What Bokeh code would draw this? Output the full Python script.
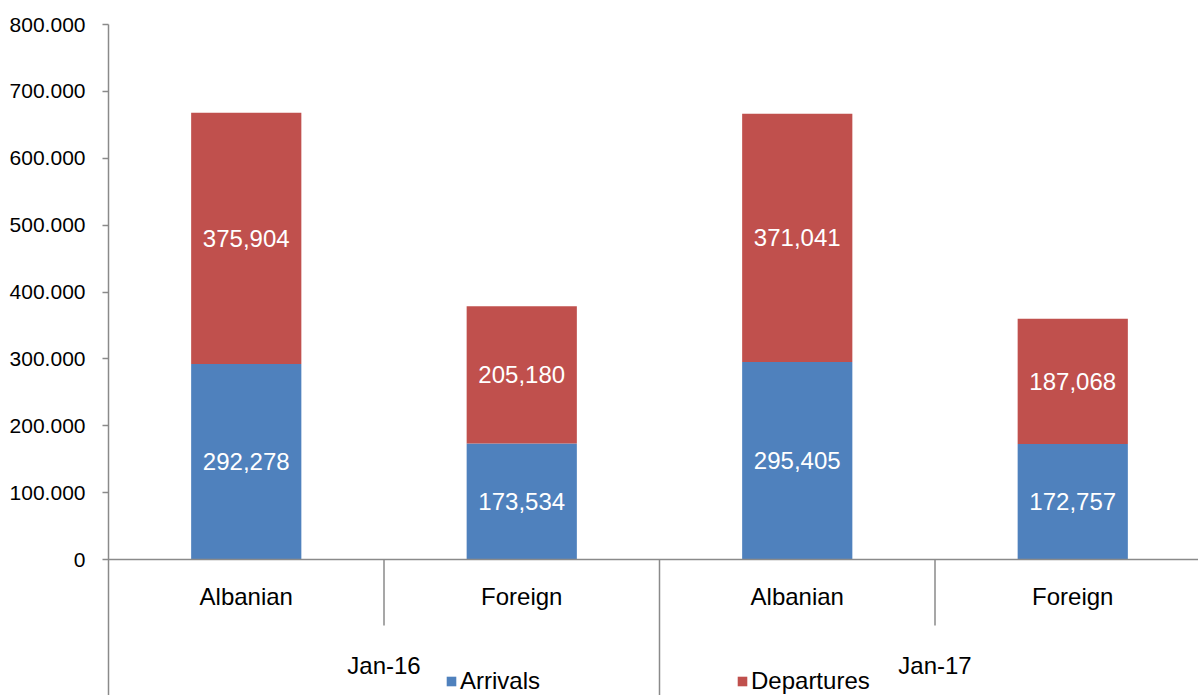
from bokeh.plotting import figure
from bokeh.models import Range1d, FixedTicker, Span, Legend, LegendItem, ColumnDataSource
from bokeh.core.properties import value
from bokeh.embed import file_html
from bokeh.resources import INLINE

# ---------------- data ----------------
groups = ["Jan-16", "Jan-17"]
origins = ["Albanian", "Foreign"]
arrivals = [292278, 173534, 295405, 172757]
departures = [375904, 205180, 371041, 187068]
series_names = ["Arrivals", "Departures"]
y_ticks = [0, 100000, 200000, 300000, 400000, 500000, 600000, 700000, 800000]
y_tick_labels = ["0", "100.000", "200.000", "300.000", "400.000",
                 "500.000", "600.000", "700.000", "800.000"]

# ---------------- style / layout ----------------
BLUE = "#4F81BD"
RED = "#C0504D"
AXIS = "#8A8A8A"
FONT = "Liberation Sans"

W, H = 1198, 695
LEFT, TOP = 108, 24
frame_w = W - LEFT
frame_h = H - TOP
slot_px = 275.5                       # width of one category slot in px
zero_px = 535                         # distance of y=0 below frame top
y_end = y_ticks[-1]
px_per_unit = zero_px / y_end
y_start = -(frame_h - zero_px) / px_per_unit
x_end = frame_w / slot_px

def y_at(px_below_zero):
    return -px_below_zero / px_per_unit

p = figure(width=W, height=H,
           x_range=Range1d(0, x_end), y_range=Range1d(y_start, y_end),
           output_backend="svg", toolbar_location=None,
           x_axis_location=None,
           min_border=0, min_border_left=LEFT, min_border_top=TOP)
p.outline_line_color = None
p.grid.grid_line_color = None
p.background_fill_color = "white"

# y axis
yax = p.yaxis[0]
yax.ticker = FixedTicker(ticks=y_ticks, minor_ticks=[])
yax.major_label_overrides = dict(zip(y_ticks, y_tick_labels))
yax.major_label_text_font = FONT
yax.major_label_text_font_size = "21px"
yax.major_label_text_color = "black"
yax.axis_line_color = AXIS
yax.axis_line_width = 1.5
yax.major_tick_line_color = AXIS
yax.major_tick_line_width = 1.5
yax.major_tick_in = 0
yax.major_tick_out = 6
yax.minor_tick_line_color = None
yax.major_label_standoff = 17

# bars
n_o = len(origins)
xs = [gi * n_o + oi + 0.5 for gi in range(len(groups)) for oi in range(n_o)]
src = ColumnDataSource(dict(x=xs, arrivals=arrivals, departures=departures))
rs = p.vbar_stack(["arrivals", "departures"], x="x", width=0.4,
                  fill_color=[BLUE, RED], line_color=None, source=src)

# zero axis line
p.add_layout(Span(location=0, dimension="width", line_color=AXIS, line_width=1.5))

# category separators
sep_x, sep_y1 = [], []
for gi in range(len(groups)):
    for oi in range(1, n_o):
        sep_x.append(gi * n_o + oi)
        sep_y1.append(y_at(66))
for gi in range(1, len(groups)):
    sep_x.append(gi * n_o)
    sep_y1.append(y_start)
p.segment(x0=sep_x, y0=[0] * len(sep_x), x1=sep_x, y1=sep_y1,
          line_color=AXIS, line_width=1.5)

# category labels
cat_labels = [o for g in groups for o in origins]
p.text(x=xs, y=[y_at(37)] * len(xs), text=cat_labels,
       text_font=value(FONT), text_font_size=value("24px"),
       text_color="black", text_align="center", text_baseline="middle")
gx = [gi * n_o + n_o / 2 for gi in range(len(groups))]
p.text(x=gx, y=[y_at(106)] * len(gx), text=groups,
       text_font=value(FONT), text_font_size=value("24px"),
       text_color="black", text_align="center", text_baseline="middle")

# data labels
lab_x = xs + xs
lab_y = [a / 2 for a in arrivals] + [a + d / 2 for a, d in zip(arrivals, departures)]
lab_t = [f"{v:,}" for v in arrivals] + [f"{v:,}" for v in departures]
p.text(x=lab_x, y=lab_y, text=lab_t,
       text_font=value(FONT), text_font_size=value("24px"),
       text_color="white", text_align="center", text_baseline="middle")

# legend (two single-item legends placed as in the original)
for name, r, lx in zip(series_names, rs, [337, 628]):
    leg = Legend(items=[LegendItem(label=name, renderers=[r])],
                 location=(lx, 0), orientation="horizontal",
                 glyph_width=12, glyph_height=12, label_standoff=3,
                 padding=0, margin=0, spacing=0,
                 border_line_color=None, background_fill_alpha=0,
                 label_text_font=FONT, label_text_font_size="24px",
                 label_text_color="black")
    p.add_layout(leg)

open("out.html", "w").write(file_html(p, INLINE))
